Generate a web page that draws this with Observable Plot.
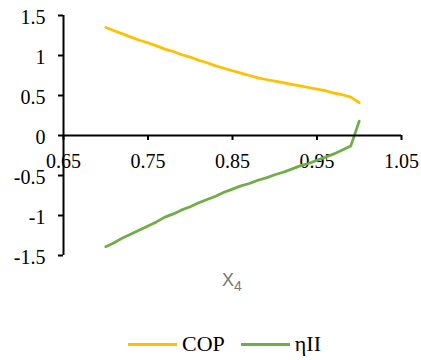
<!DOCTYPE html>
<html>
<head>
<meta charset="utf-8">
<script src="https://cdn.jsdelivr.net/npm/d3@7"></script>
<script src="https://cdn.jsdelivr.net/npm/@observablehq/plot@0.6"></script>
<style>
  body { margin: 0; background: #fff; }
  #wrap { position: relative; width: 421px; height: 360px; overflow: hidden; }
  #chart { position: absolute; left: 0; top: 0; }
  #chart svg { display: block; }
  .xtitle { position: absolute; left: 232px; top: 270px; transform: translateX(-50%);
            font-family: "Liberation Sans", Arial, sans-serif; font-size: 18px; color: #777;
            line-height: 20px; white-space: nowrap; }
  .xtitle sub { font-size: 14px; vertical-align: -5px; line-height: 0; }
  .legend { position: absolute; left: 128px; top: 331px; display: flex; align-items: center;
            font-family: "Liberation Serif", "Times New Roman", serif; font-size: 22px;
            color: #000; line-height: 26px; }
  .legend .item { display: flex; align-items: center; }
  .legend .sw { display: inline-block; width: 49px; height: 3px; margin-right: 5px; }
  .legend .item + .item { margin-left: 16px; }
</style>
</head>
<body>
<div id="wrap">
  <div id="chart"></div>
  <div class="xtitle">X<sub>4</sub></div>
  <div class="legend" id="legend"></div>
</div>
<script>
// Axis ticks
const xTicks = [0.65, 0.75, 0.85, 0.95, 1.05];
const yTicks = [-1.5, -1, -0.5, 0, 0.5, 1, 1.5];

// Series: mass fraction X4 against COP and second-law efficiency
const x4 = [0.70, 0.71, 0.72, 0.73, 0.74, 0.75, 0.76, 0.77, 0.78, 0.79,
            0.80, 0.81, 0.82, 0.83, 0.84, 0.85, 0.86, 0.87, 0.88, 0.89,
            0.90, 0.91, 0.92, 0.93, 0.94, 0.95, 0.96, 0.97, 0.98, 0.99, 1.00];
const cop = [1.35, 1.31, 1.27, 1.23, 1.19, 1.16, 1.12, 1.08, 1.05, 1.01,
             0.98, 0.94, 0.91, 0.87, 0.84, 0.81, 0.78, 0.75, 0.72, 0.70,
             0.68, 0.66, 0.64, 0.62, 0.60, 0.58, 0.56, 0.53, 0.51, 0.48, 0.41];
const etaII = [-1.39, -1.34, -1.28, -1.23, -1.18, -1.13, -1.08, -1.02, -0.98, -0.93,
               -0.89, -0.84, -0.80, -0.76, -0.71, -0.67, -0.63, -0.60, -0.56, -0.53,
               -0.49, -0.46, -0.42, -0.38, -0.35, -0.31, -0.27, -0.23, -0.18, -0.13, 0.18];

const seriesNames = ["COP", "ηII"];
const seriesColors = ["#FFC000", "#70AD47"];

const rows = [
  ...x4.map((x, i) => ({x4: x, value: cop[i], series: seriesNames[0]})),
  ...x4.map((x, i) => ({x4: x, value: etaII[i], series: seriesNames[1]}))
];

const serif = "'Liberation Serif', 'Times New Roman', serif";
const fmt = d => String(d);

const chart = Plot.plot({
  width: 421,
  height: 280,
  marginLeft: 63,
  marginRight: 20,
  marginTop: 15,
  marginBottom: 25,
  style: {background: "#fff", fontFamily: serif},
  x: {domain: [0.65, 1.05], axis: null},
  y: {domain: [-1.5, 1.5], axis: null},
  color: {domain: seriesNames, range: seriesColors},
  marks: [
    // y tick labels
    Plot.text(yTicks, {x: xTicks[0], y: d => d, text: fmt, textAnchor: "end", dx: -18, dy: 2,
                       fontSize: 20, fontFamily: serif, fill: "#000"}),
    // x tick labels sit under the zero line
    Plot.text(xTicks, {x: d => d, y: 0, text: fmt, dy: 26, fontSize: 20, fontFamily: serif, fill: "#000"}),
    // data lines
    Plot.line(rows, {x: "x4", y: "value", z: "series", stroke: "series",
                     strokeWidth: 2.75, strokeLinejoin: "round", strokeLinecap: "round"}),
    // y axis line and ticks
    Plot.ruleX([xTicks[0]], {y1: yTicks[0], y2: yTicks[yTicks.length - 1], stroke: "#000", strokeWidth: 2}),
    Plot.ruleY(yTicks, {y: d => d, x1: xTicks[0], x2: xTicks[0], insetLeft: -5, stroke: "#000", strokeWidth: 2}),
    // x axis line at zero and its ticks
    Plot.ruleY([0], {x1: xTicks[0], x2: xTicks[xTicks.length - 1], stroke: "#000", strokeWidth: 2}),
    Plot.ruleX(xTicks, {x: d => d, y1: 0, y2: 0, insetBottom: -5, stroke: "#000", strokeWidth: 2})
  ]
});
document.getElementById("chart").appendChild(chart);

// legend below the plot
const legend = document.getElementById("legend");
seriesNames.forEach((name, i) => {
  const item = document.createElement("span");
  item.className = "item";
  const sw = document.createElement("span");
  sw.className = "sw";
  sw.style.background = seriesColors[i];
  const label = document.createElement("span");
  label.textContent = name;
  item.appendChild(sw);
  item.appendChild(label);
  legend.appendChild(item);
});
</script>
</body>
</html>
